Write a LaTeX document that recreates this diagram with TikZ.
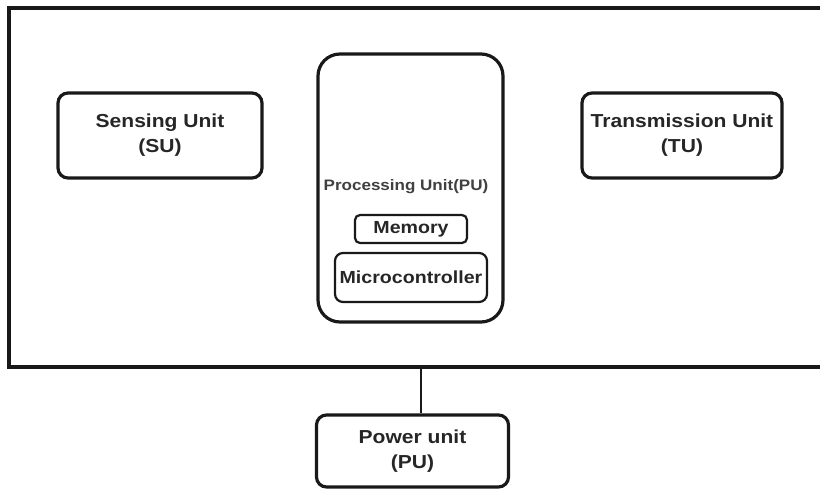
\documentclass[tikz,border=0pt]{standalone}
\usepackage{fontspec}
\setsansfont{Liberation Sans}[FakeStretch=1.12]
\begin{document}
\begin{tikzpicture}[x=1pt,y=-1pt,
  ink/.style={draw=black!90, line width=3.2pt},
  unit/.style={ink, rounded corners=10pt, align=center, inner sep=0pt,
    font=\sffamily\bfseries\fontsize{18.8}{25}\selectfont, text=black!85},
  part/.style={draw=black!90, line width=2.2pt, rounded corners=5pt, inner sep=0pt,
    font=\sffamily\bfseries\fontsize{17.5}{20}\selectfont, text=black!85}]
  \useasboundingbox (0,0) rectangle (820,488);

  % enclosing sensor-node frame (open on the right)
  \draw[ink] (822,8) -- (9,8) -- (9,367) -- (822,367);

  % the three units inside the frame
  \node[unit, minimum width=204pt, minimum height=85pt] (su) at (160,135.5)
    {Sensing Unit\\(SU)};
  \node[unit, minimum width=200pt, minimum height=85pt] (tu) at (682,135.5)
    {Transmission Unit\\(TU)};
  \node[ink, rounded corners=22pt, minimum width=185pt, minimum height=268pt] (pu) at (410.5,188) {};
  \node[font=\sffamily\bfseries\fontsize{15.2}{16}\selectfont, text=black!75] (putitle) at (406,187)
    {Processing Unit(PU)};
  \node[part, minimum width=112pt, minimum height=28pt] (mem) at (411,229) {Memory};
  \node[part, rounded corners=8pt, minimum width=152pt, minimum height=49pt] (mcu) at (411,277.5) {Microcontroller};

  % power unit below the frame
  \node[unit, minimum width=192pt, minimum height=72pt] (pwr) at (412.5,451)
    {Power unit\\(PU)};
  \coordinate (tap) at (421,367);
  \draw[draw=black!90, line width=2.4pt] (tap) -- (tap |- pwr.north);
\end{tikzpicture}
\end{document}
